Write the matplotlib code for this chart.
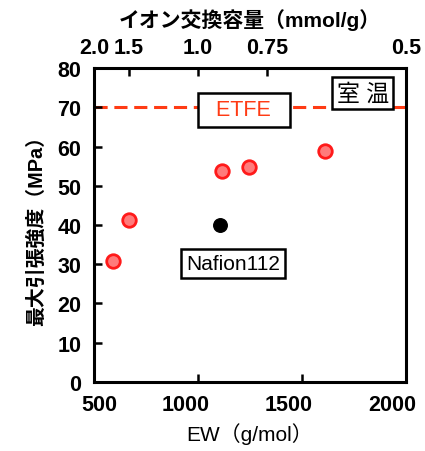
import numpy as np
import matplotlib
matplotlib.use("Agg")
from matplotlib import pyplot as plt
from matplotlib.transforms import ScaledTranslation

plt.rcParams['font.family'] = ['Liberation Sans', 'Noto Sans CJK JP', 'DejaVu Sans']

# membrane data (EW in g/mol, max tensile strength in MPa)
ew_graft = [591, 668, 1115, 1248, 1611]
ts_graft = [30.8, 41.3, 53.8, 54.9, 58.8]
ew_nafion = [1104]
ts_nafion = [40.0]
etfe_ts = 70

x_ticks = [500, 1000, 1500, 2000]
y_ticks = [0, 10, 20, 30, 40, 50, 60, 70, 80]
iec_ticks = [2.0, 1.5, 1.0, 0.75, 0.5]
iec_labels = ['2.0', '1.5', '1.0', '0.75', '0.5']

fig = plt.figure(figsize=(4.25, 4.52), dpi=100)
ax = fig.add_axes([0.221, 0.153, 0.734, 0.694])

ax.axhline(etfe_ts, color='#ff3b14', linestyle=(0, (4.3, 2.2)), linewidth=2.2, zorder=1)
ax.scatter(ew_graft, ts_graft, s=95, facecolor='#ff7b7b', edgecolor='#ff1a1a', linewidth=2, zorder=3)
ax.scatter(ew_nafion, ts_nafion, s=95, color='black', zorder=3)

box = dict(boxstyle='square,pad=0.2', facecolor='white', edgecolor='black', linewidth=1.8)
ax.text(1221, 69.4, '  ETFE  ', color='#ff3b14', fontsize=15.5, ha='center', va='center',
        bbox=dict(box, boxstyle='square,pad=0.3'), zorder=4)
ax.text(1793, 73.7, '室 温', fontsize=16.5, ha='center', va='center', bbox=box, zorder=4)
ax.text(1168, 30.2, 'Nafion112', fontsize=15, ha='center', va='center',
        bbox=dict(box, boxstyle='square,pad=0.25'), zorder=4)

ax.set_xlim(500, 2000)
ax.set_ylim(0, 80)
ax.set_xticks(x_ticks)
ax.set_yticks(y_ticks)
ax.tick_params(direction='in', length=6, width=1.8, labelsize=15.5, pad=9)
for lab in ax.get_xticklabels() + ax.get_yticklabels():
    lab.set_fontweight('bold')
# bottom labels sit slightly off-centre in the original
for lab, dx in zip(ax.get_xticklabels(), [5, -12, -13, -14]):
    lab.set_transform(lab.get_transform() + ScaledTranslation(dx / 100, 0, fig.dpi_scale_trans))
for s in ax.spines.values():
    s.set_linewidth(2.2)

ax.set_xlabel('EW（g/mol）', fontsize=15, labelpad=5)
ax.set_ylabel('最大引張強度（MPa）', fontsize=14.3, fontweight='bold', labelpad=8)

def to_iec(x):
    x = np.asarray(x, dtype=float)
    return 1000.0 / np.where(x == 0, 1e-9, x)

top = ax.secondary_xaxis('top', functions=(to_iec, to_iec))
top.set_xticks(iec_ticks)
top.set_xticklabels(iec_labels)
top.tick_params(direction='in', length=6, width=1.8, labelsize=15.5, pad=7)
for lab in top.get_xticklabels():
    lab.set_fontweight('bold')
top.set_xlabel('イオン交換容量（mmol/g）', fontsize=15, fontweight='bold', labelpad=8)

fig.savefig('out.png', dpi=100)
